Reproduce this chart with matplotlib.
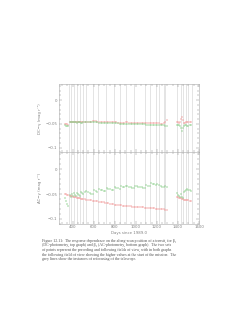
import numpy as np
import matplotlib
matplotlib.use("Agg")
import matplotlib.pyplot as plt
from matplotlib.ticker import MultipleLocator

# days since 1989.0 for each point
days = [330, 340, 350, 360, 370, 380, 390, 400, 410, 420, 430, 440, 450, 460, 470, 480, 490, 500,
        515, 530, 545, 560, 575, 590, 605, 620, 635, 650, 665, 680, 695, 710, 725, 740, 755, 770,
        785, 800, 815, 830, 845, 860, 875, 890, 905, 920, 935, 950, 965, 980, 995, 1010, 1025, 1040,
        1055, 1070, 1085, 1100, 1115, 1130, 1145, 1160, 1175, 1190, 1205, 1220, 1235, 1250, 1265,
        1280, 1295,
        1390, 1400, 1410, 1420, 1430, 1440, 1450, 1460, 1470, 1480, 1490, 1500, 1510, 1520]

# top graph (DC photometry)
dc_red = [-0.050, -0.051, -0.051, -0.052, -0.046, -0.046, -0.045, -0.045, -0.046, -0.045, -0.045, -0.046,
          -0.045, -0.045, -0.046, -0.046, -0.046, -0.045,
          -0.046, -0.046, -0.046, -0.046, -0.045, -0.044, -0.044, -0.044, -0.045, -0.045, -0.046, -0.046,
          -0.046, -0.046, -0.046, -0.047, -0.047, -0.047, -0.047, -0.047, -0.047, -0.048, -0.048, -0.048,
          -0.048, -0.048, -0.047, -0.047, -0.048, -0.048, -0.048, -0.048, -0.048, -0.048, -0.048, -0.049,
          -0.049, -0.048, -0.048, -0.049, -0.049, -0.049, -0.049, -0.049, -0.049, -0.049, -0.049, -0.049,
          -0.050, -0.050, -0.048, -0.045, -0.042,
          -0.046, -0.047, -0.048, -0.047, -0.040, -0.036, -0.042, -0.049, -0.048, -0.047, -0.047, -0.047,
          -0.046, -0.046]
dc_green = [-0.053, -0.054, -0.054, -0.054, -0.047, -0.047, -0.047, -0.047, -0.047, -0.047, -0.047, -0.048,
            -0.047, -0.047, -0.047, -0.048, -0.048, -0.047,
            -0.047, -0.047, -0.047, -0.047, -0.047, -0.047, -0.047, -0.047, -0.047, -0.048, -0.048, -0.048,
            -0.048, -0.048, -0.048, -0.049, -0.049, -0.049, -0.049, -0.049, -0.049, -0.049, -0.050, -0.050,
            -0.050, -0.050, -0.050, -0.050, -0.050, -0.050, -0.050, -0.051, -0.051, -0.051, -0.051, -0.051,
            -0.051, -0.051, -0.051, -0.052, -0.052, -0.052, -0.052, -0.052, -0.052, -0.052, -0.052, -0.052,
            -0.053, -0.053, -0.053, -0.054, -0.055,
            -0.052, -0.053, -0.053, -0.054, -0.058, -0.064, -0.058, -0.054, -0.053, -0.053, -0.054, -0.054,
            -0.053, -0.053]

# bottom graph (AC photometry)
ac_red = [-0.049, -0.050, -0.051, -0.052, -0.053, -0.053, -0.054, -0.055, -0.055, -0.056, -0.056, -0.057,
          -0.057, -0.058, -0.058, -0.059, -0.059, -0.060,
          -0.060, -0.061, -0.061, -0.062, -0.062, -0.063, -0.063, -0.064, -0.064, -0.065, -0.065, -0.066,
          -0.066, -0.067, -0.067, -0.068, -0.069, -0.069, -0.070, -0.071, -0.071, -0.072, -0.073, -0.073,
          -0.074, -0.074, -0.074, -0.075, -0.075, -0.075, -0.076, -0.076, -0.076, -0.076, -0.077, -0.077,
          -0.077, -0.077, -0.078, -0.078, -0.078, -0.078, -0.079, -0.079, -0.079, -0.080, -0.080, -0.080,
          -0.081, -0.081, -0.081, -0.082, -0.082,
          -0.055, -0.056, -0.058, -0.058, -0.057, -0.059, -0.060, -0.061, -0.061, -0.062, -0.062, -0.062,
          -0.063, -0.063]
ac_green = [-0.058, -0.063, -0.070, -0.075, -0.052, -0.055, -0.050, -0.053, -0.048, -0.051, -0.054, -0.047,
            -0.049, -0.051, -0.053, -0.046, -0.048, -0.050,
            -0.046, -0.044, -0.046, -0.047, -0.049, -0.050, -0.042, -0.043, -0.045, -0.040, -0.041, -0.042,
            -0.043, -0.044, -0.038, -0.039, -0.040, -0.041, -0.042, -0.036, -0.037, -0.038, -0.039, -0.034,
            -0.035, -0.036, -0.033, -0.034, -0.035, -0.036, -0.037, -0.038, -0.033, -0.034, -0.035, -0.036,
            -0.036, -0.037, -0.038, -0.032, -0.033, -0.034, -0.028, -0.029, -0.030, -0.031, -0.030, -0.032,
            -0.034, -0.035, -0.036, -0.033, -0.036,
            -0.048, -0.052, -0.054, -0.056, -0.050, -0.055, -0.058, -0.045, -0.044, -0.042, -0.040, -0.042,
            -0.041, -0.043]

# refocusing instances (grey lines)
refocus = [362, 384, 416, 445, 473, 498, 530, 593, 645, 720, 790, 850, 905, 985, 1085, 1130,
           1190, 1222, 1265, 1280, 1390, 1428, 1450, 1480, 1500, 1530]

ylabels = ["DC\u2212\u03b3 (mag r\u207b\u00b9)", "AC\u2212\u03b3 (mag r\u207b\u00b9)"]

caption = ["Figure 12.11:  The response dependence on the along-scan position of a transit, for \u03b2\u2081",
           "(DC-photometry, top graph) and \u03b2\u2082 (AC-photometry, bottom graph).  The two sets",
           "of points represent the preceding and following fields of view, with in both graphs",
           "the following field of view showing the higher values at the start of the mission.  The",
           "grey lines show the instances of refocusing of the telescope."]

red = "#f29a9a"
green = "#8ccf8c"
grey = "#d0d0d0"
tc = "#808080"

fig = plt.figure(figsize=(2.5, 3.23), dpi=100)
ax1 = fig.add_axes([0.236, 0.528, 0.56, 0.212])
ax2 = fig.add_axes([0.236, 0.307, 0.56, 0.221])

for ax, r, g, lab in [(ax1, dc_red, dc_green, ylabels[0]), (ax2, ac_red, ac_green, ylabels[1])]:
    for d in refocus:
        ax.axvline(d, color=grey, lw=0.4, zorder=1)
    ax.plot(days, r, ls="none", marker="+", ms=1.4, mew=0.3, color=red, zorder=3)
    ax.plot(days, g, ls="none", marker="+", ms=1.4, mew=0.3, color=green, zorder=3)
    ax.set_xlim(270, 1600)
    ax.set_ylim(-0.11, 0.034)
    ax.yaxis.set_major_locator(MultipleLocator(0.05))
    ax.yaxis.set_minor_locator(MultipleLocator(0.01))
    ax.xaxis.set_major_locator(MultipleLocator(200))
    ax.xaxis.set_minor_locator(MultipleLocator(50))
    ax.tick_params(which="both", direction="in", top=True, right=True, width=0.3,
                   colors=tc, labelsize=2.8, pad=1)
    ax.tick_params(which="major", length=2.2)
    ax.tick_params(which="minor", length=1.1)
    ax.set_yticks([0, -0.05, -0.1])
    ax.set_yticklabels(["0", "\u22120.05", "\u22120.1"])
    for s in ax.spines.values():
        s.set_linewidth(0.4)
        s.set_color("#aaaaaa")
    ax.set_ylabel(lab, fontsize=2.8, color=tc, labelpad=3)

ax1.tick_params(labelbottom=False)
ax2.set_xlabel("Days since 1989.0", fontsize=2.8, color=tc, labelpad=1.5)

y = 1 - 240.5 / 323
for line in caption:
    fig.text(0.166, y, line, fontsize=2.9, family=["Liberation Serif", "DejaVu Serif"],
             color="#555555", va="center")
    y -= 4.67 / 323

fig.savefig("out.png", dpi=100)
